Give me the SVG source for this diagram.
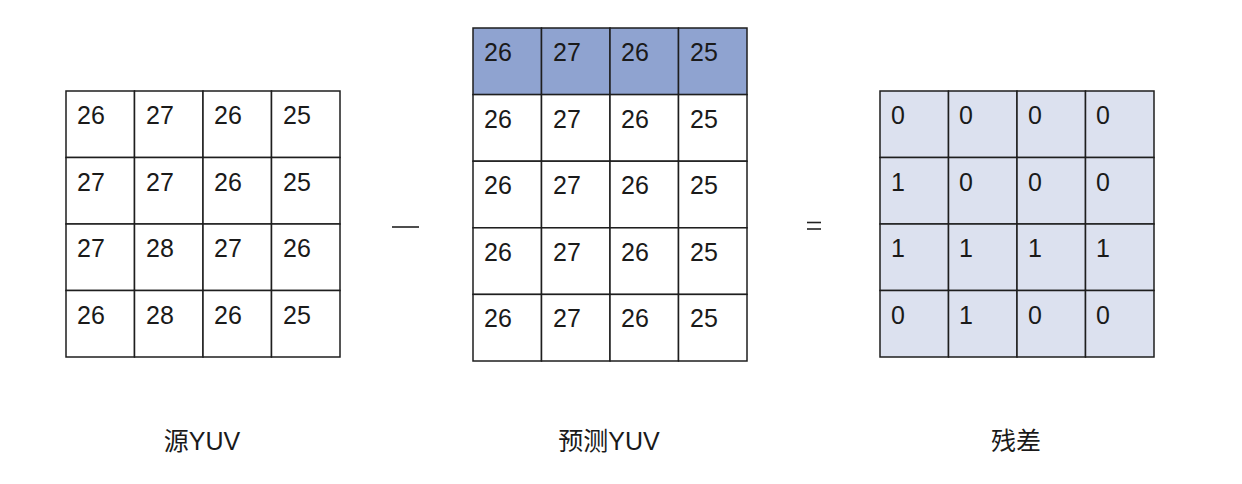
<svg xmlns="http://www.w3.org/2000/svg" width="1242" height="484" viewBox="0 0 1242 484">
<style>
.cell{stroke:#1e1e1e;stroke-width:1.5}
.w{fill:#ffffff}
.h{fill:#8fa3d0}
.r{fill:#dce1ef}
.n{font-family:"Liberation Sans",Arial,sans-serif;font-size:25px;fill:#1a1a1a}
.lbl{font-family:"Liberation Sans","Noto Sans CJK SC",sans-serif;font-size:25px;fill:#1a1a1a;text-anchor:middle}
.op{stroke:#222;stroke-width:1.6}
</style>
<rect width="1242" height="484" fill="#ffffff"/>
<g id="src">
<g class="cell w">
<rect x="66" y="91" width="68.5" height="66.5"/><rect x="134.5" y="91" width="68.5" height="66.5"/><rect x="203" y="91" width="68.5" height="66.5"/><rect x="271.5" y="91" width="68.5" height="66.5"/>
<rect x="66" y="157.5" width="68.5" height="66.5"/><rect x="134.5" y="157.5" width="68.5" height="66.5"/><rect x="203" y="157.5" width="68.5" height="66.5"/><rect x="271.5" y="157.5" width="68.5" height="66.5"/>
<rect x="66" y="224" width="68.5" height="66.5"/><rect x="134.5" y="224" width="68.5" height="66.5"/><rect x="203" y="224" width="68.5" height="66.5"/><rect x="271.5" y="224" width="68.5" height="66.5"/>
<rect x="66" y="290.5" width="68.5" height="66.5"/><rect x="134.5" y="290.5" width="68.5" height="66.5"/><rect x="203" y="290.5" width="68.5" height="66.5"/><rect x="271.5" y="290.5" width="68.5" height="66.5"/>
</g>
<g class="n">
<text x="77" y="124">26</text><text x="146" y="124">27</text><text x="214" y="124">26</text><text x="283" y="124">25</text>
<text x="77" y="190.5">27</text><text x="146" y="190.5">27</text><text x="214" y="190.5">26</text><text x="283" y="190.5">25</text>
<text x="77" y="257">27</text><text x="146" y="257">28</text><text x="214" y="257">27</text><text x="283" y="257">26</text>
<text x="77" y="323.5">26</text><text x="146" y="323.5">28</text><text x="214" y="323.5">26</text><text x="283" y="323.5">25</text>
</g>
<text class="lbl" x="202" y="450">源YUV</text>
</g>
<g id="pred">
<g class="cell h">
<rect x="473" y="28" width="68.5" height="66.6"/><rect x="541.5" y="28" width="68.5" height="66.6"/><rect x="610" y="28" width="68.5" height="66.6"/><rect x="678.5" y="28" width="68.5" height="66.6"/>
</g>
<g class="cell w">
<rect x="473" y="94.6" width="68.5" height="66.6"/><rect x="541.5" y="94.6" width="68.5" height="66.6"/><rect x="610" y="94.6" width="68.5" height="66.6"/><rect x="678.5" y="94.6" width="68.5" height="66.6"/>
<rect x="473" y="161.2" width="68.5" height="66.6"/><rect x="541.5" y="161.2" width="68.5" height="66.6"/><rect x="610" y="161.2" width="68.5" height="66.6"/><rect x="678.5" y="161.2" width="68.5" height="66.6"/>
<rect x="473" y="227.8" width="68.5" height="66.6"/><rect x="541.5" y="227.8" width="68.5" height="66.6"/><rect x="610" y="227.8" width="68.5" height="66.6"/><rect x="678.5" y="227.8" width="68.5" height="66.6"/>
<rect x="473" y="294.4" width="68.5" height="66.6"/><rect x="541.5" y="294.4" width="68.5" height="66.6"/><rect x="610" y="294.4" width="68.5" height="66.6"/><rect x="678.5" y="294.4" width="68.5" height="66.6"/>
</g>
<g class="n">
<text x="484" y="61">26</text><text x="553" y="61">27</text><text x="621" y="61">26</text><text x="690" y="61">25</text>
<text x="484" y="127.6">26</text><text x="553" y="127.6">27</text><text x="621" y="127.6">26</text><text x="690" y="127.6">25</text>
<text x="484" y="194.2">26</text><text x="553" y="194.2">27</text><text x="621" y="194.2">26</text><text x="690" y="194.2">25</text>
<text x="484" y="260.8">26</text><text x="553" y="260.8">27</text><text x="621" y="260.8">26</text><text x="690" y="260.8">25</text>
<text x="484" y="327.4">26</text><text x="553" y="327.4">27</text><text x="621" y="327.4">26</text><text x="690" y="327.4">25</text>
</g>
<text class="lbl" x="609" y="450">预测YUV</text>
</g>
<g id="res">
<g class="cell r">
<rect x="880" y="91" width="68.5" height="66.5"/><rect x="948.5" y="91" width="68.5" height="66.5"/><rect x="1017" y="91" width="68.5" height="66.5"/><rect x="1085.5" y="91" width="68.5" height="66.5"/>
<rect x="880" y="157.5" width="68.5" height="66.5"/><rect x="948.5" y="157.5" width="68.5" height="66.5"/><rect x="1017" y="157.5" width="68.5" height="66.5"/><rect x="1085.5" y="157.5" width="68.5" height="66.5"/>
<rect x="880" y="224" width="68.5" height="66.5"/><rect x="948.5" y="224" width="68.5" height="66.5"/><rect x="1017" y="224" width="68.5" height="66.5"/><rect x="1085.5" y="224" width="68.5" height="66.5"/>
<rect x="880" y="290.5" width="68.5" height="66.5"/><rect x="948.5" y="290.5" width="68.5" height="66.5"/><rect x="1017" y="290.5" width="68.5" height="66.5"/><rect x="1085.5" y="290.5" width="68.5" height="66.5"/>
</g>
<g class="n">
<text x="891" y="124">0</text><text x="959" y="124">0</text><text x="1028" y="124">0</text><text x="1096" y="124">0</text>
<text x="891" y="190.5">1</text><text x="959" y="190.5">0</text><text x="1028" y="190.5">0</text><text x="1096" y="190.5">0</text>
<text x="891" y="257">1</text><text x="959" y="257">1</text><text x="1028" y="257">1</text><text x="1096" y="257">1</text>
<text x="891" y="323.5">0</text><text x="959" y="323.5">1</text><text x="1028" y="323.5">0</text><text x="1096" y="323.5">0</text>
</g>
<text class="lbl" x="1016" y="450">残差</text>
</g>
<g id="operators">
<line class="op" x1="392" y1="227" x2="419" y2="227"/>
<line class="op" x1="807" y1="222.5" x2="821" y2="222.5"/>
<line class="op" x1="807" y1="229" x2="821" y2="229"/>
</g>
</svg>
